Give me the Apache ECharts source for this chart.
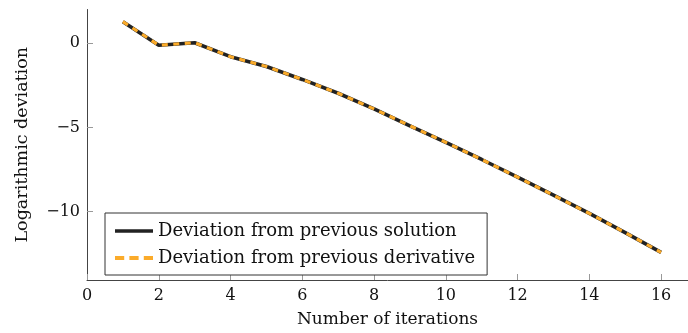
<!DOCTYPE html>
<html>
<head>
<meta charset="utf-8">
<script src="https://cdn.jsdelivr.net/npm/echarts@6/dist/echarts.min.js"></script>
<style>
html,body{margin:0;padding:0;background:#fff;}
#chart{width:688px;height:333px;}
</style>
</head>
<body>
<div id="chart"></div>
<script>
var iterations = [1,2,3,4,5,6,7,8,9,10,11,12,13,14,15,16];
var devSolution = [1.28,-0.12,0.03,-0.8,-1.38,-2.15,-2.97,-3.9,-4.9,-5.88,-6.9,-7.95,-9.02,-10.1,-11.24,-12.41];
var devDerivative = [1.28,-0.12,0.03,-0.8,-1.38,-2.15,-2.97,-3.9,-4.9,-5.88,-6.9,-7.95,-9.02,-10.1,-11.24,-12.41];
var xTicks = [0,2,4,6,8,10,12,14,16];
var yTicks = [-10,-5,0];
var seriesNames = ['Deviation from previous solution','Deviation from previous derivative'];

var FONT = 'DejaVu Serif';
function pairs(xs, ys){ return xs.map(function(x,i){ return [x, ys[i]]; }); }
function fmt(v){ return v < 0 ? '\u2212' + Math.abs(v) : String(v); }

var BLACK = '#222222';
var ORANGE = '#fbab2a';

var chart = echarts.init(document.getElementById('chart'), null, {renderer:'canvas'});
chart.setOption({
  animation:false,
  backgroundColor:'#fff',
  textStyle:{fontFamily:FONT},
  grid:{left:87, right:0, top:9.5, bottom:52, containLabel:false},
  xAxis:{
    type:'value', min:0, max:16.75,
    name:'Number of iterations', nameLocation:'middle', nameGap:31,
    nameTextStyle:{fontFamily:FONT, fontSize:17, color:'#111'},
    axisLine:{show:true, onZero:false, lineStyle:{color:'#444', width:1}},
    axisTick:{show:true, inside:true, length:6, customValues:xTicks, lineStyle:{color:'#999'}},
    axisLabel:{customValues:xTicks, fontFamily:FONT, fontSize:16, color:'#111', margin:8, formatter:fmt},
    splitLine:{show:false}
  },
  yAxis:{
    type:'value', min:-14.05, max:2,
    name:'Logarithmic deviation', nameLocation:'middle', nameGap:56, nameRotate:90,
    nameTextStyle:{fontFamily:FONT, fontSize:17.5, color:'#111'},
    axisLine:{show:true, onZero:false, lineStyle:{color:'#444', width:1}},
    axisTick:{show:true, inside:true, length:6, customValues:yTicks, lineStyle:{color:'#999'}},
    axisLabel:{customValues:yTicks, fontFamily:FONT, fontSize:16, color:'#111', margin:7, formatter:fmt},
    splitLine:{show:false}
  },
  legend:{
    orient:'vertical', left:105, top:213,
    backgroundColor:'#fff', borderColor:'#333', borderWidth:1,
    padding:[8,12,7,10], itemGap:7, itemWidth:38, itemHeight:14,
    itemStyle:{borderWidth:0},
    textStyle:{fontFamily:FONT, fontSize:18, lineHeight:20, color:'#111'},
    data:[
      {name:seriesNames[0], icon:'path://M0,0H38V3.6H0Z'},
      {name:seriesNames[1], icon:'path://M0,0H8V3.4H0Z M12.5,0H20.5V3.4H12.5Z M25,0H33V3.4H25Z'}
    ]
  },
  series:[
    {name:seriesNames[0], type:'line', data:pairs(iterations, devSolution), showSymbol:false, symbol:'none',
     lineStyle:{color:BLACK, width:3.6}, itemStyle:{color:BLACK}, z:2},
    {name:seriesNames[1], type:'line', data:pairs(iterations, devDerivative), showSymbol:false, symbol:'none',
     lineStyle:{color:ORANGE, width:3.1, type:[6,5.5]}, itemStyle:{color:ORANGE}, z:3}
  ]
});
</script>
</body>
</html>
